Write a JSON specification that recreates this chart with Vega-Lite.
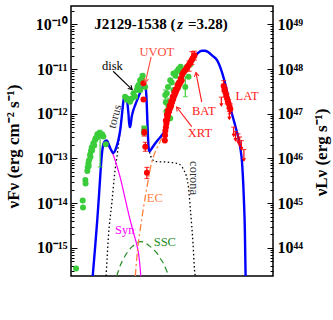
{
"$schema": "https://vega.github.io/schema/vega-lite/v6.json",
"width": 202, "height": 270,
"autosize": {"type": "none"},
"padding": {"left": 71, "top": 6, "right": 60, "bottom": 44},
"config": {"font": "Liberation Serif", "view": {"stroke": "black", "strokeWidth": 1.5},
  "axis": {"grid": false, "domain": false, "tickColor": "black", "labelColor": "black", "titleColor": "black", "labelFont": "Liberation Serif", "titleFont": "Liberation Serif", "labelFontWeight": "bold", "titleFontWeight": "bold", "labelFontSize": 16, "titleFontSize": 17, "labelFlush": false, "labelOverlap": false, "tickWidth": 1}},
"datasets": {
 "total": [{"nu":10.06,"F":-15.63},{"nu":10.3,"F":-14.95},{"nu":10.5,"F":-14.35},{"nu":10.65,"F":-13.85},{"nu":10.8,"F":-13.3},{"nu":10.92,"F":-12.93},{"nu":11.07,"F":-12.68},{"nu":11.2,"F":-12.62},{"nu":11.39,"F":-12.6},{"nu":11.6,"F":-12.7},{"nu":11.85,"F":-12.83},{"nu":12.02,"F":-12.88},{"nu":12.2,"F":-12.82},{"nu":12.34,"F":-12.72},{"nu":12.5,"F":-12.58},{"nu":12.66,"F":-12.38},{"nu":12.82,"F":-12.05},{"nu":12.97,"F":-11.72},{"nu":13.08,"F":-11.6},{"nu":13.18,"F":-11.6},{"nu":13.33,"F":-11.72},{"nu":13.45,"F":-12.0},{"nu":13.55,"F":-12.3},{"nu":13.62,"F":-12.3},{"nu":13.75,"F":-12.08},{"nu":13.9,"F":-11.93},{"nu":14.1,"F":-11.8},{"nu":14.4,"F":-11.62},{"nu":14.6,"F":-11.5},{"nu":14.8,"F":-11.4},{"nu":14.95,"F":-11.37},{"nu":15.08,"F":-11.42},{"nu":15.15,"F":-11.6},{"nu":15.22,"F":-12.0},{"nu":15.3,"F":-12.5},{"nu":15.38,"F":-12.8},{"nu":15.45,"F":-12.84},{"nu":15.7,"F":-12.76},{"nu":16.0,"F":-12.66},{"nu":16.3,"F":-12.57},{"nu":16.62,"F":-12.48},{"nu":16.94,"F":-12.36},{"nu":17.2,"F":-12.12},{"nu":17.5,"F":-11.87},{"nu":17.8,"F":-11.63},{"nu":18.2,"F":-11.38},{"nu":18.6,"F":-11.17},{"nu":19.0,"F":-11.0},{"nu":19.5,"F":-10.8},{"nu":20.0,"F":-10.65},{"nu":20.4,"F":-10.59},{"nu":20.7,"F":-10.59},{"nu":21.0,"F":-10.62},{"nu":21.4,"F":-10.7},{"nu":21.85,"F":-10.8},{"nu":22.33,"F":-11.08},{"nu":22.7,"F":-11.4},{"nu":23.1,"F":-11.85},{"nu":23.5,"F":-12.2},{"nu":23.75,"F":-12.42},{"nu":24.05,"F":-12.75},{"nu":24.23,"F":-13.11},{"nu":24.39,"F":-13.86},{"nu":24.49,"F":-14.6},{"nu":24.56,"F":-15.63}],
 "syn": [{"nu":11.5,"F":-12.72},{"nu":11.8,"F":-12.82},{"nu":12.02,"F":-12.93},{"nu":12.3,"F":-13.13},{"nu":12.66,"F":-13.42},{"nu":13.0,"F":-13.76},{"nu":13.29,"F":-14.06},{"nu":13.55,"F":-14.32},{"nu":13.77,"F":-14.52},{"nu":14.0,"F":-14.72},{"nu":14.25,"F":-14.94},{"nu":14.4,"F":-15.12},{"nu":14.5,"F":-15.3},{"nu":14.57,"F":-15.48},{"nu":14.62,"F":-15.63}],
 "torus": [{"nu":11.33,"F":-15.63},{"nu":11.55,"F":-14.75},{"nu":11.87,"F":-14.0},{"nu":12.18,"F":-13.26},{"nu":12.4,"F":-12.89},{"nu":12.6,"F":-12.5},{"nu":12.82,"F":-12.07},{"nu":12.97,"F":-11.74}],
 "corona": [{"nu":15.45,"F":-12.86},{"nu":15.65,"F":-13.0},{"nu":16.0,"F":-13.07},{"nu":17.0,"F":-13.08},{"nu":17.8,"F":-13.1},{"nu":18.2,"F":-13.12},{"nu":18.5,"F":-13.18},{"nu":18.75,"F":-13.28},{"nu":19.0,"F":-13.45},{"nu":19.15,"F":-13.66},{"nu":19.31,"F":-14.1},{"nu":19.45,"F":-14.5},{"nu":19.57,"F":-14.89},{"nu":19.72,"F":-15.5},{"nu":19.79,"F":-15.63}],
 "ec": [{"nu":14.1,"F":-15.63},{"nu":14.31,"F":-15.05},{"nu":14.56,"F":-14.6},{"nu":14.88,"F":-14.1},{"nu":15.2,"F":-13.65},{"nu":15.5,"F":-13.25},{"nu":15.83,"F":-12.95},{"nu":16.2,"F":-12.75},{"nu":16.5,"F":-12.6},{"nu":16.94,"F":-12.38}],
 "ssc": [{"nu":12.34,"F":-15.63},{"nu":12.7,"F":-15.38},{"nu":13.13,"F":-15.18},{"nu":13.77,"F":-14.98},{"nu":14.2,"F":-14.9},{"nu":14.56,"F":-14.86},{"nu":14.9,"F":-14.87},{"nu":15.35,"F":-14.94},{"nu":15.75,"F":-15.02},{"nu":16.15,"F":-15.12},{"nu":16.5,"F":-15.25},{"nu":16.78,"F":-15.35},{"nu":17.05,"F":-15.5},{"nu":17.3,"F":-15.63}],
 "green": [{"nu":8.48,"F":-15.46},{"nu":9.11,"F":-13.94},{"nu":9.14,"F":-14.1},{"nu":9.36,"F":-13.48},{"nu":9.38,"F":-13.56},{"nu":9.55,"F":-13.28},{"nu":9.59,"F":-13.2},{"nu":9.65,"F":-13.11},{"nu":9.68,"F":-13.17},{"nu":9.71,"F":-13.04},{"nu":9.81,"F":-12.92},{"nu":9.85,"F":-12.97},{"nu":9.9,"F":-12.83},{"nu":9.97,"F":-12.75},{"nu":10.0,"F":-12.82},{"nu":10.12,"F":-12.66},{"nu":10.2,"F":-12.71},{"nu":10.28,"F":-12.59},{"nu":10.35,"F":-12.55},{"nu":10.44,"F":-12.53},{"nu":10.5,"F":-12.46},{"nu":10.6,"F":-12.5},{"nu":10.7,"F":-12.43},{"nu":10.85,"F":-12.48},{"nu":10.95,"F":-12.46},{"nu":11.07,"F":-12.51},{"nu":11.3,"F":-12.68},
  {"nu":13.13,"F":-11.62},{"nu":13.29,"F":-11.69},{"nu":13.35,"F":-11.66},{"nu":13.6,"F":-11.73},{"nu":13.77,"F":-11.66},{"nu":13.92,"F":-11.54},{"nu":14.08,"F":-11.62},{"nu":14.25,"F":-11.47},{"nu":14.31,"F":-11.4},{"nu":14.4,"F":-11.36},{"nu":14.56,"F":-11.25},{"nu":14.56,"F":-11.47},{"nu":14.65,"F":-11.3},{"nu":14.72,"F":-11.21},{"nu":14.8,"F":-11.15},{"nu":14.87,"F":-11.32},{"nu":15.03,"F":-11.4},
  {"nu":16.94,"F":-11.58},{"nu":17.0,"F":-11.75},{"nu":17.05,"F":-11.95},{"nu":17.09,"F":-11.54},{"nu":17.2,"F":-11.4},{"nu":17.25,"F":-11.84},{"nu":17.41,"F":-11.25},{"nu":17.41,"F":-12.1},{"nu":17.55,"F":-11.3},{"nu":17.72,"F":-11.1},{"nu":17.72,"F":-11.47},{"nu":17.9,"F":-11.15},{"nu":18.05,"F":-11.05},{"nu":18.2,"F":-11.0},{"nu":18.2,"F":-11.32},{"nu":18.4,"F":-10.95},{"nu":18.52,"F":-11.1},{"nu":18.7,"F":-11.05},{"nu":18.84,"F":-11.4},{"nu":19.0,"F":-10.95},{"nu":19.15,"F":-11.17},{"nu":19.3,"F":-10.9},{"nu":19.47,"F":-10.8}],
 "greensq": [{"nu":14.95,"F":-12.33},{"nu":14.95,"F":-12.42}],
 "greenerr": [{"nu":10.76,"lo":-13.19,"hi":-12.37},{"nu":14.72,"lo":-11.3,"hi":-11.12},{"nu":16.94,"lo":-11.69,"hi":-11.47},{"nu":17.2,"lo":-12.05,"hi":-11.65},{"nu":18.2,"lo":-11.45,"hi":-11.2},{"nu":18.84,"lo":-11.62,"hi":-11.17}],
 "red": [{"nu":14.87,"F":-11.32},{"nu":14.87,"F":-11.68},{"nu":14.95,"F":-12.42},{"nu":15.05,"F":-12.74},{"nu":15.2,"F":-13.32},
  {"nu":16.9,"F":-12.6},{"nu":16.92,"F":-12.48},{"nu":16.95,"F":-12.38},{"nu":17.0,"F":-12.3},{"nu":17.05,"F":-12.22},{"nu":17.1,"F":-12.15},{"nu":17.15,"F":-12.08},{"nu":17.2,"F":-12.02},{"nu":17.3,"F":-11.95},{"nu":17.4,"F":-11.88},{"nu":17.5,"F":-11.82},{"nu":17.6,"F":-11.74},{"nu":17.7,"F":-11.67},{"nu":17.8,"F":-11.6},{"nu":17.9,"F":-11.54},{"nu":18.0,"F":-11.48},{"nu":18.1,"F":-11.43},{"nu":18.2,"F":-11.38},{"nu":18.3,"F":-11.33},{"nu":18.4,"F":-11.29},{"nu":18.5,"F":-11.25},
  {"nu":17.0,"F":-12.15},{"nu":17.1,"F":-12.02},{"nu":17.2,"F":-11.92},{"nu":17.35,"F":-11.82},{"nu":17.5,"F":-11.72},{"nu":17.65,"F":-11.62},{"nu":17.8,"F":-11.52},{"nu":17.95,"F":-11.45},{"nu":18.1,"F":-11.36},{"nu":18.25,"F":-11.3},{"nu":18.4,"F":-11.22},
  {"nu":18.55,"F":-11.12},{"nu":18.65,"F":-11.08},{"nu":18.75,"F":-11.05},{"nu":18.85,"F":-11.02},{"nu":18.95,"F":-10.98},{"nu":19.05,"F":-10.95},{"nu":19.15,"F":-10.92},{"nu":19.25,"F":-10.88},{"nu":19.35,"F":-10.84},{"nu":19.45,"F":-10.8},{"nu":19.55,"F":-10.76},{"nu":19.65,"F":-10.72},{"nu":19.72,"F":-10.69},
  {"nu":22.48,"F":-11.38},{"nu":22.56,"F":-11.45},{"nu":22.64,"F":-11.52},{"nu":22.72,"F":-11.58},{"nu":22.8,"F":-11.66},{"nu":22.88,"F":-11.72},{"nu":22.95,"F":-11.77},{"nu":23.05,"F":-11.85},{"nu":23.11,"F":-11.9}],
 "rederr": [{"nu":14.95,"lo":-12.5,"hi":-12.35},{"nu":15.05,"lo":-12.84,"hi":-12.64},{"nu":15.2,"lo":-13.45,"hi":-13.2},{"nu":19.2,"lo":-11.05,"hi":-10.82},{"nu":19.47,"lo":-10.9,"hi":-10.61},{"nu":19.7,"lo":-10.8,"hi":-10.6},{"nu":22.48,"lo":-11.5,"hi":-11.26},{"nu":22.64,"lo":-11.62,"hi":-11.42},{"nu":22.8,"lo":-11.78,"hi":-11.56},{"nu":22.95,"lo":-11.88,"hi":-11.68},{"nu":23.11,"lo":-12.0,"hi":-11.78}],
 "ul": [{"nu":22.26,"F":-11.63,"F2":-11.82},{"nu":23.02,"F":-11.95,"F2":-12.12},{"nu":23.43,"F":-12.3,"F2":-12.5},{"nu":23.6,"F":-12.4,"F2":-12.6},{"nu":23.84,"F":-12.45,"F2":-12.65},{"nu":24.0,"F":-12.52,"F2":-12.72},{"nu":24.16,"F":-12.6,"F2":-12.8},{"nu":24.4,"F":-12.8,"F2":-13.05}],
 "arrows": [{"label":"disk","nu":12.0,"F":-11.05,"nu2":13.8,"F2":-11.46,"kind":"model"},{"label":"UVOT","nu":15.6,"F":-10.73,"nu2":15.05,"F2":-11.3,"kind":"uvot"},{"label":"BAT","nu":20.4,"F":-11.74,"nu2":19.85,"F2":-11.08,"kind":"obs"},{"label":"XRT","nu":19.45,"F":-12.29,"nu2":18.02,"F2":-11.85,"kind":"obs"}],
 "notes": [{"text":"disk","nu":11.93,"F":-10.93,"kind":"model"},{"text":"UVOT","nu":16.14,"F":-10.61,"kind":"uvot"},{"text":"BAT","nu":20.6,"F":-11.93,"kind":"obs"},{"text":"XRT","nu":20.23,"F":-12.42,"kind":"obs"},{"text":"LAT","nu":24.7,"F":-11.6,"kind":"obs"},{"text":"EC","nu":15.95,"F":-13.89,"kind":"ec"},{"text":"Syn","nu":13.1,"F":-14.6,"kind":"syn"},{"text":"SSC","nu":16.9,"F":-14.88,"kind":"ssc"}]
},
"encoding": {
 "x": {"field": "nu", "type": "quantitative", "scale": {"domain": [8, 27.16], "nice": false, "zero": false},
   "axis": {"values": [8,10,12,14,16,18,20,22,24,26], "labelExpr": "datum.value==8?'10⁸':datum.value==12?'10¹²':datum.value==16?'10¹⁶':datum.value==20?'10²⁰':datum.value==24?'10²⁴':''", "tickSize": -6, "labelPadding": 8, "labelBaseline": "top", "title": "ν (Hz)", "titleX": 101, "titleY": 28, "titleAlign": "center", "titleBaseline": "middle"}},
 "y": {"field": "F", "type": "quantitative", "scale": {"domain": [-15.63, -9.59], "nice": false, "zero": false}, "axis": null}
},
"resolve": {"axis": {"y": "independent"}},
"layer": [
 {"data": {"name": "torus"}, "mark": {"type": "line", "color": "black", "strokeWidth": 1.3, "strokeDash": [1.5, 2.5], "interpolate": "monotone", "clip": true},
  "encoding": {"y": {"field": "F", "type": "quantitative", "scale": {"domain": [-15.63, -9.59], "nice": false, "zero": false},
    "axis": {"orient": "left", "values": [-15.5229,-15.3979,-15.301,-15.2218,-15.1549,-15.0969,-15.0458,-15,-14.699,-14.5229,-14.3979,-14.301,-14.2218,-14.1549,-14.0969,-14.0458,-14,-13.699,-13.5229,-13.3979,-13.301,-13.2218,-13.1549,-13.0969,-13.0458,-13,-12.699,-12.5229,-12.3979,-12.301,-12.2218,-12.1549,-12.0969,-12.0458,-12,-11.699,-11.5229,-11.3979,-11.301,-11.2218,-11.1549,-11.0969,-11.0458,-11,-10.699,-10.5229,-10.3979,-10.301,-10.2218,-10.1549,-10.0969,-10.0458,-10,-9.699],
     "labelExpr": "datum.value==-10?'10⁻¹⁰':datum.value==-11?'10⁻¹¹':datum.value==-12?'10⁻¹²':datum.value==-13?'10⁻¹³':datum.value==-14?'10⁻¹⁴':datum.value==-15?'10⁻¹⁵':''",
     "tickSize": {"condition": {"test": "datum.value == round(datum.value)", "value": -6}, "value": -3},
     "labelPadding": 10, "title": "νFν (erg cm⁻² s⁻¹)", "titleX": -58, "titleY": 140, "titleAngle": -90, "titleAlign": "center", "titleBaseline": "middle"}}}},
 {"data": {"name": "corona"}, "mark": {"type": "line", "color": "black", "strokeWidth": 1.3, "strokeDash": [1.5, 2.5], "interpolate": "monotone", "clip": true},
  "encoding": {"y": {"field": "F", "type": "quantitative", "scale": {"domain": [-15.63, -9.59], "nice": false, "zero": false},
    "axis": {"orient": "right", "values": [-15.5229,-15.3979,-15.301,-15.2218,-15.1549,-15.0969,-15.0458,-15,-14.699,-14.5229,-14.3979,-14.301,-14.2218,-14.1549,-14.0969,-14.0458,-14,-13.699,-13.5229,-13.3979,-13.301,-13.2218,-13.1549,-13.0969,-13.0458,-13,-12.699,-12.5229,-12.3979,-12.301,-12.2218,-12.1549,-12.0969,-12.0458,-12,-11.699,-11.5229,-11.3979,-11.301,-11.2218,-11.1549,-11.0969,-11.0458,-11,-10.699,-10.5229,-10.3979,-10.301,-10.2218,-10.1549,-10.0969,-10.0458,-10,-9.699],
     "labelExpr": "datum.value==-10?'10⁴⁹':datum.value==-11?'10⁴⁸':datum.value==-12?'10⁴⁷':datum.value==-13?'10⁴⁶':datum.value==-14?'10⁴⁵':datum.value==-15?'10⁴⁴':''",
     "tickSize": {"condition": {"test": "datum.value == round(datum.value)", "value": -6}, "value": -3},
     "labelPadding": 10, "title": "νLν (erg s⁻¹)", "titleX": 48, "titleY": 146, "titleAngle": -90, "titleAlign": "center", "titleBaseline": "middle"}}}},
 {"data": {"name": "syn"}, "mark": {"type": "line", "color": "#FF00FF", "strokeWidth": 1.2, "interpolate": "monotone", "clip": true}},
 {"data": {"name": "ssc"}, "mark": {"type": "line", "color": "#228B22", "strokeWidth": 1.2, "strokeDash": [6, 4], "interpolate": "monotone", "clip": true}},
 {"data": {"name": "ec"}, "mark": {"type": "line", "color": "#FF7F3F", "strokeWidth": 1.3, "strokeDash": [7, 3, 2, 3], "interpolate": "monotone", "clip": true}},
 {"data": {"name": "total"}, "mark": {"type": "line", "color": "#0000FF", "strokeWidth": 2.4, "interpolate": "monotone", "clip": true}},
 {"data": {"name": "greenerr"}, "mark": {"type": "rule", "color": "#3ACC3A", "strokeWidth": 1.2},
  "encoding": {"y": {"field": "lo", "type": "quantitative", "scale": {"domain": [-15.63, -9.59], "nice": false, "zero": false}, "axis": null}, "y2": {"field": "hi"}}},
 {"data": {"name": "greenerr"}, "transform": [{"fold": ["lo", "hi"], "as": ["end", "Fv"]}], "mark": {"type": "tick", "orient": "horizontal", "color": "#3ACC3A", "size": 5, "thickness": 1.2},
  "encoding": {"y": {"field": "Fv", "type": "quantitative", "scale": {"domain": [-15.63, -9.59], "nice": false, "zero": false}, "axis": null}}},
 {"data": {"name": "green"}, "mark": {"type": "circle", "color": "#3ACC3A", "opacity": 1, "size": 36}},
 {"data": {"name": "greensq"}, "mark": {"type": "square", "color": "#3ACC3A", "opacity": 1, "size": 34}},
 {"data": {"name": "rederr"}, "mark": {"type": "rule", "color": "#FF0000", "strokeWidth": 1.2},
  "encoding": {"y": {"field": "lo", "type": "quantitative", "scale": {"domain": [-15.63, -9.59], "nice": false, "zero": false}, "axis": null}, "y2": {"field": "hi"}}},
 {"data": {"name": "rederr"}, "transform": [{"fold": ["lo", "hi"], "as": ["end", "Fv"]}], "mark": {"type": "tick", "orient": "horizontal", "color": "#FF0000", "size": 5, "thickness": 1.2},
  "encoding": {"y": {"field": "Fv", "type": "quantitative", "scale": {"domain": [-15.63, -9.59], "nice": false, "zero": false}, "axis": null}}},
 {"data": {"name": "red"}, "mark": {"type": "circle", "color": "#FF0000", "opacity": 1, "size": 36}},
 {"data": {"name": "ul"}, "mark": {"type": "rule", "color": "#FF0000", "strokeWidth": 1.2},
  "encoding": {"y2": {"field": "F2"}}},
 {"data": {"name": "ul"}, "mark": {"type": "tick", "orient": "horizontal", "color": "#FF0000", "size": 5, "thickness": 1.2}},
 {"data": {"name": "ul"}, "mark": {"type": "point", "shape": "M-1,-0.6L0,0L-1,0.6", "filled": false, "stroke": "#FF0000", "strokeWidth": 1.2, "size": 25, "angle": 90, "opacity": 1},
  "encoding": {"y": {"field": "F2", "type": "quantitative", "scale": {"domain": [-15.63, -9.59], "nice": false, "zero": false}, "axis": null}}},
 {"data": {"name": "arrows"}, "mark": {"type": "rule", "strokeWidth": 1.1},
  "encoding": {"x2": {"field": "nu2"}, "y2": {"field": "F2"}, "color": {"field": "kind", "type": "nominal", "scale": {"domain": ["model", "obs", "uvot", "ec", "syn", "ssc"], "range": ["#000000", "#FF1A1A", "#FF4A3A", "#FF7F3F", "#FF00FF", "#228B22"]}, "legend": null}}},
 {"data": {"name": "arrows"}, "transform": [{"filter": "datum.label == 'disk'"}], "mark": {"type": "point", "shape": "M-1,-0.6L0,0L-1,0.6", "filled": false, "stroke": "#000000", "strokeWidth": 1.1, "size": 60, "angle": 44, "opacity": 1},
  "encoding": {"x": {"field": "nu2", "type": "quantitative", "scale": {"domain": [8, 27.16], "nice": false, "zero": false}, "axis": null}, "y": {"field": "F2", "type": "quantitative", "scale": {"domain": [-15.63, -9.59], "nice": false, "zero": false}, "axis": null}}},
 {"data": {"name": "arrows"}, "transform": [{"filter": "datum.label == 'UVOT'"}], "mark": {"type": "point", "shape": "M-1,-0.6L0,0L-1,0.6", "filled": false, "stroke": "#FF4A3A", "strokeWidth": 1.1, "size": 60, "angle": 103, "opacity": 1},
  "encoding": {"x": {"field": "nu2", "type": "quantitative", "scale": {"domain": [8, 27.16], "nice": false, "zero": false}, "axis": null}, "y": {"field": "F2", "type": "quantitative", "scale": {"domain": [-15.63, -9.59], "nice": false, "zero": false}, "axis": null}}},
 {"data": {"name": "arrows"}, "transform": [{"filter": "datum.label == 'BAT'"}], "mark": {"type": "point", "shape": "M-1,-0.6L0,0L-1,0.6", "filled": false, "stroke": "#FF1A1A", "strokeWidth": 1.1, "size": 60, "angle": 259, "opacity": 1},
  "encoding": {"x": {"field": "nu2", "type": "quantitative", "scale": {"domain": [8, 27.16], "nice": false, "zero": false}, "axis": null}, "y": {"field": "F2", "type": "quantitative", "scale": {"domain": [-15.63, -9.59], "nice": false, "zero": false}, "axis": null}}},
 {"data": {"name": "arrows"}, "transform": [{"filter": "datum.label == 'XRT'"}], "mark": {"type": "point", "shape": "M-1,-0.6L0,0L-1,0.6", "filled": false, "stroke": "#FF1A1A", "strokeWidth": 1.1, "size": 60, "angle": 233, "opacity": 1},
  "encoding": {"x": {"field": "nu2", "type": "quantitative", "scale": {"domain": [8, 27.16], "nice": false, "zero": false}, "axis": null}, "y": {"field": "F2", "type": "quantitative", "scale": {"domain": [-15.63, -9.59], "nice": false, "zero": false}, "axis": null}}},
 {"data": {"name": "notes"}, "mark": {"type": "text", "font": "Liberation Serif", "fontSize": 12.5, "align": "center", "baseline": "middle"},
  "encoding": {"text": {"field": "text"}, "color": {"field": "kind", "type": "nominal", "scale": {"domain": ["model", "obs", "uvot", "ec", "syn", "ssc"], "range": ["#000000", "#FF1A1A", "#FF4A3A", "#FF7F3F", "#FF00FF", "#228B22"]}, "legend": null}}},
 {"data": {"values": [{"nu": 12.12, "F": -12.06, "t": "torus"}]}, "mark": {"type": "text", "font": "Liberation Serif", "fontSize": 12, "align": "center", "baseline": "middle", "angle": 285, "color": "#333333"},
  "encoding": {"text": {"field": "t"}}},
 {"data": {"values": [{"nu": 19.63, "F": -13.44, "t": "corona"}]}, "mark": {"type": "text", "font": "Liberation Serif", "fontSize": 12.5, "align": "center", "baseline": "middle", "angle": 90, "color": "#333333"},
  "encoding": {"text": {"field": "t"}}},
 {"data": {"values": [{"nu": 17.92, "F": -10.0, "t": "J2129-1538 ("}]}, "mark": {"type": "text", "font": "Liberation Serif", "fontSize": 15, "fontWeight": "bold", "align": "right", "baseline": "middle", "color": "black"},
  "encoding": {"text": {"field": "t"}}},
 {"data": {"values": [{"nu": 18.36, "F": -10.0, "t": "z"}]}, "mark": {"type": "text", "font": "Liberation Serif", "fontSize": 15, "fontWeight": "bold", "fontStyle": "italic", "align": "center", "baseline": "middle", "color": "black"},
  "encoding": {"text": {"field": "t"}}},
 {"data": {"values": [{"nu": 19.1, "F": -10.0, "t": "=3.28)"}]}, "mark": {"type": "text", "font": "Liberation Serif", "fontSize": 15, "fontWeight": "bold", "align": "left", "baseline": "middle", "color": "black"},
  "encoding": {"text": {"field": "t"}}}
]
}
